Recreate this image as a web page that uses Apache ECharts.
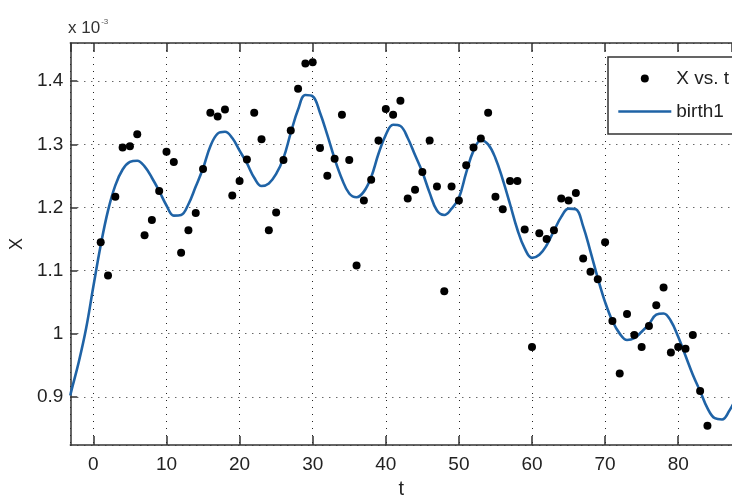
<!DOCTYPE html>
<html>
<head>
<meta charset="utf-8">
<script src="https://cdn.jsdelivr.net/npm/echarts@6/dist/echarts.min.js"></script>
<style>html,body{margin:0;padding:0;background:#fff;}#c{width:732px;height:504px;}</style>
</head>
<body>
<div id="c"></div>
<script>
// Observed data points (t, X)
const tPoints = [1,2,3,4,5,6,7,8,9,10,11,12,13,14,15,16,17,18,19,20,21,22,23,24,25,26,27,28,29,30,31,32,33,34,35,36,37,38,39,40,41,42,43,44,45,46,47,48,49,50,51,52,53,54,55,56,57,58,59,60,61,62,63,64,65,66,67,68,69,70,71,72,73,74,75,76,77,78,79,80,81,82,83,84];
const xPoints = [1.145,1.092,1.217,1.295,1.297,1.316,1.156,1.180,1.226,1.288,
  1.272,1.128,1.164,1.191,1.261,1.350,1.344,1.355,1.219,1.242,
  1.276,1.350,1.308,1.164,1.192,1.275,1.322,1.388,1.428,1.430,
  1.294,1.250,1.277,1.347,1.275,1.108,1.211,1.244,1.306,1.356,
  1.347,1.369,1.214,1.228,1.256,1.306,1.233,1.067,1.233,1.211,
  1.267,1.295,1.309,1.350,1.217,1.197,1.242,1.242,1.165,0.979,
  1.159,1.150,1.164,1.214,1.211,1.223,1.119,1.098,1.086,1.145,
  1.020,0.937,1.031,0.998,0.979,1.012,1.045,1.073,0.970,0.979,
  0.976,0.998,0.909,0.854];

// Fitted curve "birth1" samples
const curveT = [-3.16,-3,-2,-1,0,1,2,3,4,5,6,7,8,9,10,11,12,13,14,15,16,17,18,19,20,21,22,23,24,25,26,27,28,29,30,31,32,33,34,35,36,37,38,39,40,41,42,43,44,45,46,47,48,49,50,51,52,53,54,55,56,57,58,59,60,61,62,63,64,65,66,67,68,69,70,71,72,73,74,75,76,77,78,79,80,81,82,83,84,85,86,87,88];
const curveX = [0.902,0.910,0.955,1.008,1.075,1.140,1.195,1.235,1.260,1.272,1.274,1.265,1.247,1.226,1.203,1.187,1.188,1.205,1.233,1.262,1.297,1.317,1.320,1.310,1.290,1.270,1.247,1.234,1.238,1.253,1.278,1.318,1.355,1.378,1.376,1.350,1.315,1.277,1.245,1.222,1.216,1.225,1.248,1.285,1.315,1.331,1.329,1.310,1.283,1.256,1.223,1.195,1.188,1.198,1.215,1.255,1.290,1.306,1.300,1.278,1.244,1.205,1.165,1.135,1.120,1.125,1.140,1.163,1.185,1.198,1.197,1.170,1.130,1.088,1.050,1.020,1.000,0.990,0.993,1.003,1.015,1.030,1.032,1.020,0.995,0.965,0.935,0.909,0.882,0.866,0.864,0.878,0.900];

const xMin = -3.157, xMax = 87.36;
const yMin = 0.8234, yMax = 1.4605;

const FONT = '"Liberation Sans Narrow", "Liberation Sans", Arial, sans-serif';
const gridDots = {show: true, lineStyle: {color: '#222', width: 1, type: [1, 6]}};

const chart = echarts.init(document.getElementById('c'), null, {renderer: 'canvas'});
chart.setOption({
  animation: false,
  backgroundColor: '#fff',
  title: {
    text: '{a|x 10}{b|-3}',
    left: 63, top: 13,
    textStyle: {
      fontWeight: 'normal', fontSize: 17, fontFamily: FONT, color: '#333',
      rich: {
        a: {fontFamily: FONT, fontSize: 17, color: '#333', fontWeight: 'normal'},
        b: {fontFamily: FONT, fontSize: 8, color: '#555', fontWeight: 'normal', verticalAlign: 'top', padding: [0,0,12,1]}
      }
    }
  },
  grid: {left: 65, top: 43, width: 668, height: 403, containLabel: false},
  legend: {
    orient: 'vertical',
    left: 608, top: 57,
    padding: [12, 20, 13, 9],
    itemGap: 14,
    itemWidth: 53, itemHeight: 8,
    itemTextGap: 5,
    borderColor: '#333', borderWidth: 1.5,
    backgroundColor: '#fff',
    textStyle: {fontFamily: FONT, fontSize: 19, color: '#222'},
    data: [
      {name: 'X vs. t', icon: 'circle', itemStyle: {color: '#000', opacity: 1}},
      {name: 'birth1', itemStyle: {opacity: 0}, lineStyle: {color: '#1f63a6', width: 2.6, opacity: 1}}
    ]
  },
  xAxis: [{
    type: 'value', min: xMin, max: xMax, splitNumber: 9,
    name: 't', nameLocation: 'middle', nameGap: 31,
    nameTextStyle: {fontFamily: FONT, fontSize: 20, color: '#222'},
    axisLine: {show: true, onZero: false, lineStyle: {color: '#333', width: 1.5}},
    axisTick: {show: true, inside: true, length: 9, lineStyle: {color: '#333', width: 1.5}},
    axisLabel: {fontFamily: FONT, fontSize: 19, color: '#222', margin: 10, showMinLabel: false, showMaxLabel: false},
    splitLine: gridDots
  }, {
    type: 'value', position: 'top', min: xMin, max: xMax, splitNumber: 9,
    axisLine: {show: true, lineStyle: {color: '#333', width: 1.5}},
    axisTick: {show: true, inside: true, length: 9, lineStyle: {color: '#333', width: 1.5}},
    axisLabel: {show: false},
    splitLine: {show: false}
  }],
  yAxis: {
    type: 'value', min: yMin, max: yMax,
    name: 'X', nameLocation: 'middle', nameGap: 42, nameRotate: 90,
    nameTextStyle: {fontFamily: FONT, fontSize: 18, color: '#222'},
    axisLine: {show: true, onZero: false, lineStyle: {color: '#333', width: 1.5}},
    axisTick: {show: true, inside: true, length: 7, lineStyle: {color: '#333', width: 1.5}},
    axisLabel: {fontFamily: FONT, fontSize: 19, color: '#222', margin: 7, showMinLabel: false, showMaxLabel: false},
    splitLine: gridDots
  },
  series: [{
    name: 'X vs. t',
    type: 'scatter',
    symbol: 'circle', symbolSize: 8,
    itemStyle: {color: '#000', opacity: 1},
    data: tPoints.map((t, i) => [t, xPoints[i]]),
    z: 3
  }, {
    name: 'birth1',
    type: 'line',
    smooth: 0.4,
    showSymbol: false, symbol: 'none',
    lineStyle: {color: '#1f63a6', width: 2.6},
    itemStyle: {color: '#1f63a6'},
    data: curveT.map((t, i) => [t, curveX[i]]),
    z: 2
  }]
});
</script>
</body>
</html>
